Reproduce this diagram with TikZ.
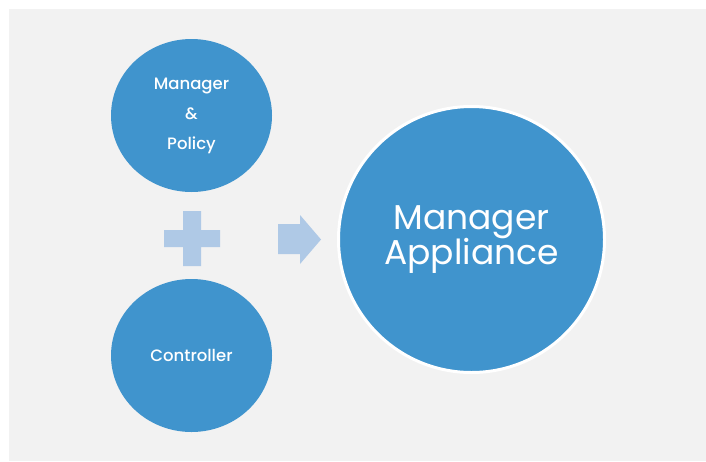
\documentclass[tikz,border=0pt]{standalone}
\usepackage{fontspec}
\setmainfont{Poppins}
\IfFontExistsTF{Poppins Medium}{\newfontfamily\medfont{Poppins Medium}}{\newfontfamily\medfont{Poppins}[FakeBold=0.6]}
\usetikzlibrary{shapes.geometric}
\definecolor{bg}{HTML}{F2F2F2}
\definecolor{circblue}{HTML}{4094CD}
\definecolor{lightblue}{HTML}{AFC9E6}
\tikzset{
  smallcirc/.style={ellipse, fill=circblue, minimum width=161pt, minimum height=153pt, inner sep=0pt, text=white, font=\medfont\fontsize{16.5}{30}\selectfont, align=center},
  bigcirc/.style={circle, fill=circblue, draw=white, line width=3pt, minimum size=266pt, inner sep=0pt, text=white, font=\fontsize{34.5}{30}\selectfont, align=center},
  shapefill/.style={fill=lightblue, draw=none}
}
\begin{document}
\begin{tikzpicture}[x=1pt,y=-1pt]
\useasboundingbox (0,0) rectangle (706,461);
\fill[bg] (9,9) rectangle (706,461);
\node[smallcirc] (mp) at (191.5,115.5) {Manager\\\&\\Policy};
\node[smallcirc] (ctrl) at (191.5,355.5) {Controller};
\node[bigcirc] (ma) at (471.5,239.5) {Manager\\[-2pt]Appliance};
\fill[shapefill] (183,211) -- (201,211) -- (201,230) -- (220,230) -- (220,247) -- (201,247) -- (201,266) -- (183,266) -- (183,247) -- (164,247) -- (164,230) -- (183,230) -- cycle;
\fill[shapefill] (278,224) -- (300,224) -- (300,215) -- (321,239.5) -- (300,264) -- (300,254) -- (278,254) -- cycle;
\end{tikzpicture}
\end{document}
